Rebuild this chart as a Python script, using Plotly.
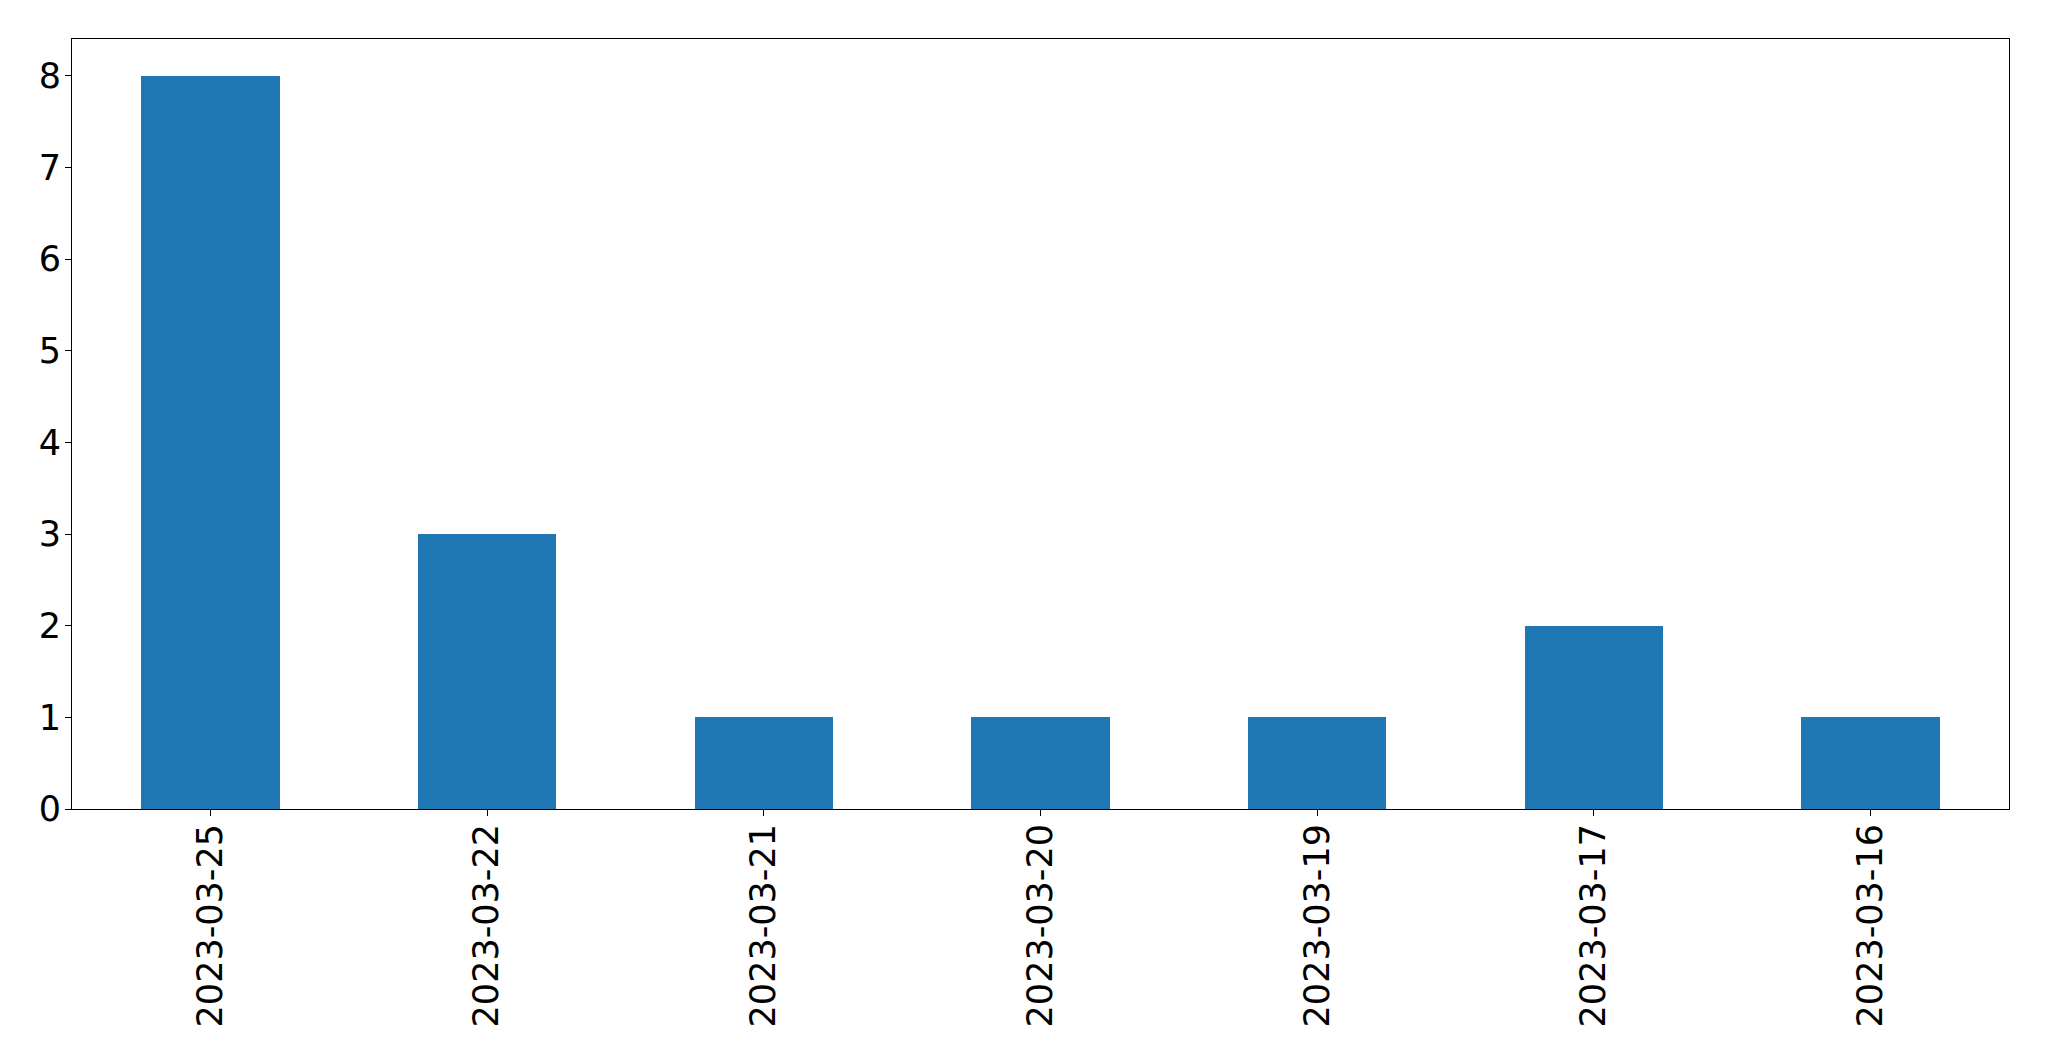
import plotly.graph_objects as go

dates = ["2023-03-25", "2023-03-22", "2023-03-21", "2023-03-20", "2023-03-19", "2023-03-17", "2023-03-16"]
counts = [8, 3, 1, 1, 1, 2, 1]
y_ticks = [0, 1, 2, 3, 4, 5, 6, 7, 8]

fig = go.Figure(go.Bar(
    x=list(range(len(dates))), y=counts, width=0.5,
    marker=dict(color="#1f77b4", line=dict(width=0)),
))

# page body has an 8px default margin, so the figure is offset by (8, 8)
fig.update_layout(
    width=2033, height=1045,
    margin=dict(l=64, r=32, t=31, b=244, autoexpand=False),
    paper_bgcolor="white", plot_bgcolor="white",
    font=dict(family="DejaVu Sans", size=35, color="black"),
    showlegend=False,
    bargap=0,
)
fig.update_xaxes(
    range=[-0.5, len(dates) - 0.5],
    tickmode="array", tickvals=list(range(len(dates))), ticktext=dates,
    tickangle=-90,
    showline=True, mirror=True, linecolor="black", linewidth=1,
    ticks="outside", ticklen=6, tickcolor="black", tickwidth=1,
    showgrid=False, zeroline=False, automargin=False,
    ticklabelstandoff=-6,
)
fig.update_yaxes(
    range=[0, 8.4],
    tickmode="array", tickvals=y_ticks,
    showline=True, mirror=True, linecolor="black", linewidth=1,
    ticks="outside", ticklen=6, tickcolor="black", tickwidth=1,
    showgrid=False, zeroline=False, automargin=False,
    ticklabelstandoff=-3,
)

fig.write_html("out.html")
